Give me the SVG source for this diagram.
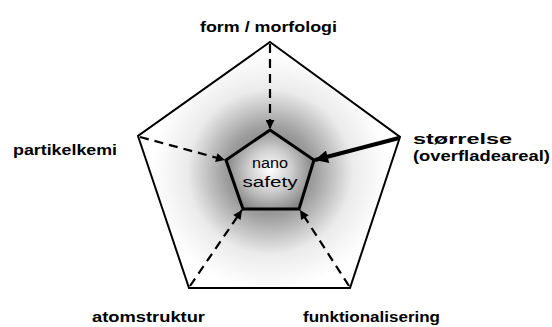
<svg xmlns="http://www.w3.org/2000/svg" width="552" height="327" viewBox="0 0 552 327">
  <defs>
    <radialGradient id="outerFill" gradientUnits="userSpaceOnUse" cx="270" cy="172" r="118">
      <stop offset="0" stop-color="#5e5e5e"/>
      <stop offset="0.38" stop-color="#9e9e9e"/>
      <stop offset="0.7" stop-color="#ebebeb"/>
      <stop offset="1" stop-color="#ffffff"/>
    </radialGradient>
    <radialGradient id="innerFill" gradientUnits="userSpaceOnUse" cx="270" cy="170" r="46">
      <stop offset="0" stop-color="#ffffff"/>
      <stop offset="0.45" stop-color="#d0d0d0"/>
      <stop offset="1" stop-color="#808080"/>
    </radialGradient>
    <marker id="head" viewBox="0 0 10 10" refX="10" refY="5" markerWidth="12" markerHeight="9" markerUnits="userSpaceOnUse" orient="auto">
      <path d="M0,0 L10,5 L0,10 Z" fill="#000"/>
    </marker>
    <marker id="headBig" viewBox="0 0 10 10" refX="10" refY="5" markerWidth="16" markerHeight="13" markerUnits="userSpaceOnUse" orient="auto">
      <path d="M0,0 L10,5 L0,10 Z" fill="#000"/>
    </marker>
  </defs>
  <style>
    .outer { fill: url(#outerFill); stroke: #000; stroke-width: 2; stroke-linejoin: miter; }
    .inner { fill: url(#innerFill); stroke: #000; stroke-width: 3; stroke-linejoin: miter; }
    .dash { stroke: #000; stroke-width: 2.2; stroke-dasharray: 9 6; fill: none; marker-end: url(#head); }
    .thick { stroke: #000; stroke-width: 4; fill: none; marker-end: url(#headBig); }
    .label { font-family: "Comic Sans MS", "Liberation Sans", sans-serif; font-size: 15.5px; font-weight: bold; fill: #000; }
    .center { font-family: "Comic Sans MS", "Liberation Sans", sans-serif; font-size: 15.5px; fill: #000; text-anchor: middle; }
  </style>

  <g id="outer-pentagon">
    <polygon class="outer" points="270,42 400,137 350,288 189,288 138,136"/>
  </g>

  <g id="nano-safety">
    <polygon class="inner" points="270,130 314,160 299,209 243,209 226,160"/>
    <text class="center" x="270" y="168" textLength="36" lengthAdjust="spacingAndGlyphs">nano</text>
    <text class="center" x="270" y="187" textLength="55" lengthAdjust="spacingAndGlyphs">safety</text>
  </g>

  <g id="connectors">
    <line class="dash" x1="270" y1="44" x2="270" y2="129"/>
    <line class="dash" x1="140" y1="137" x2="225" y2="160"/>
    <line class="dash" x1="190" y1="286" x2="242" y2="210"/>
    <line class="dash" x1="349" y1="286" x2="300" y2="210"/>
    <line class="thick" x1="399" y1="138" x2="315" y2="160"/>
  </g>

  <g id="form-morfologi">
    <text class="label" x="200" y="32" textLength="137" lengthAdjust="spacingAndGlyphs">form / morfologi</text>
  </g>
  <g id="partikelkemi">
    <text class="label" x="13" y="155" textLength="104" lengthAdjust="spacingAndGlyphs">partikelkemi</text>
  </g>
  <g id="stoerrelse">
    <text class="label" x="413" y="144" textLength="99" lengthAdjust="spacingAndGlyphs">størrelse</text>
    <text class="label" x="413" y="161" textLength="137" lengthAdjust="spacingAndGlyphs">(overfladeareal)</text>
  </g>
  <g id="atomstruktur">
    <text class="label" x="92" y="322" textLength="113" lengthAdjust="spacingAndGlyphs">atomstruktur</text>
  </g>
  <g id="funktionalisering">
    <text class="label" x="303" y="322" textLength="137" lengthAdjust="spacingAndGlyphs">funktionalisering</text>
  </g>
</svg>
